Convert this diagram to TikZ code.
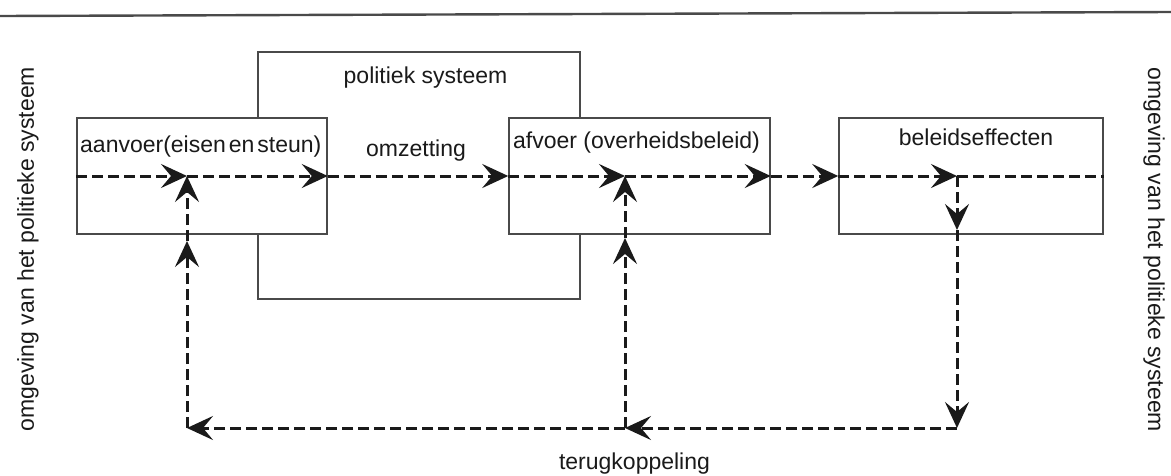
\documentclass[tikz,border=0pt]{standalone}
\usepackage{fontspec}
\setmainfont{Liberation Sans}
\usetikzlibrary{arrows.meta}
\definecolor{boxgrey}{HTML}{4A4A4A}
\definecolor{ink}{HTML}{1A1A1A}
\begin{document}
\begin{tikzpicture}[x=1pt,y=-1pt,
  box/.style={draw=boxgrey, line width=1.5pt, fill=white, inner sep=0pt, shape=rectangle},
  lbl/.style={text=ink, inner sep=0pt, font=\fontsize{23}{26}\selectfont},
  flow/.style={draw=ink, line width=3pt, dash pattern=on 11pt off 5pt},
  arr/.style={flow, -{Stealth[length=26pt 0, width=24pt 0, inset=10pt 0]}}
]
\useasboundingbox (0,0) rectangle (1171,475);
% top rule
\coordinate (rl) at (0,16);
\coordinate (rr) at (1171,12);
\draw[draw=boxgrey, line width=2.4pt] (rl) -- (rr);
% boxes
\node[box, minimum width=322pt, minimum height=247pt] (pol) at (419,175.5) {};
\node[box, minimum width=250pt, minimum height=116pt] (aan) at (202,176) {};
\node[box, minimum width=261pt, minimum height=116pt] (afv) at (639.5,176) {};
\node[box, minimum width=264pt, minimum height=116pt] (bel) at (971,176) {};
% labels
\node[lbl, anchor=base] (tpol) at (425.5,83) {politiek systeem};
\node[lbl, anchor=base west] (taan) at (80,152) {\spaceskip=3pt aanvoer(eisen en steun)};
\node[lbl, anchor=base] (tomz) at (416,156) {omzetting};
\node[lbl, anchor=base west] (tafv) at (513,148) {afvoer (overheidsbeleid)};
\node[lbl, anchor=base] (tbel) at (976,145) {beleidseffecten};
\node[lbl, anchor=base] (tter) at (634.5,469) {terugkoppeling};
\node[lbl, anchor=base, rotate=90] (tleft) at (34,249) {omgeving van het politieke systeem};
\node[lbl, anchor=base, rotate=-90] (tright) at (1148,250) {omgeving van het politieke systeem};
% junctions
\coordinate (j1) at (187,176);
\coordinate (j2) at (625,176);
\coordinate (j3) at (957,176);
\coordinate (b1) at (187,428);
\coordinate (b2) at (625,428);
\coordinate (b3) at (957,428);
\coordinate (l1) at (187,241);
\coordinate (m1) at (625,238);
\coordinate (r1) at (957,230);
% main flow
\draw[arr] (aan.west) -- (j1);
\draw[arr] (j1) -- (aan.east);
\draw[arr] (aan.east) -- (afv.west);
\draw[arr] (afv.west) -- (j2);
\draw[arr] (j2) -- (afv.east);
\draw[arr] (afv.east) -- (bel.west);
\draw[arr] (bel.west) -- (j3);
\draw[flow] (j3) -- (bel.east);
% feedback
\draw[arr] (j3) -- (r1);
\draw[arr] (r1) -- (b3);
\draw[arr] (b3) -- (b2);
\draw[arr] (b2) -- (b1);
\draw[arr] (b1) -- (l1);
\draw[arr] (l1) -- (j1);
\draw[arr] (b2) -- (m1);
\draw[arr] (m1) -- (j2);
\end{tikzpicture}
\end{document}
